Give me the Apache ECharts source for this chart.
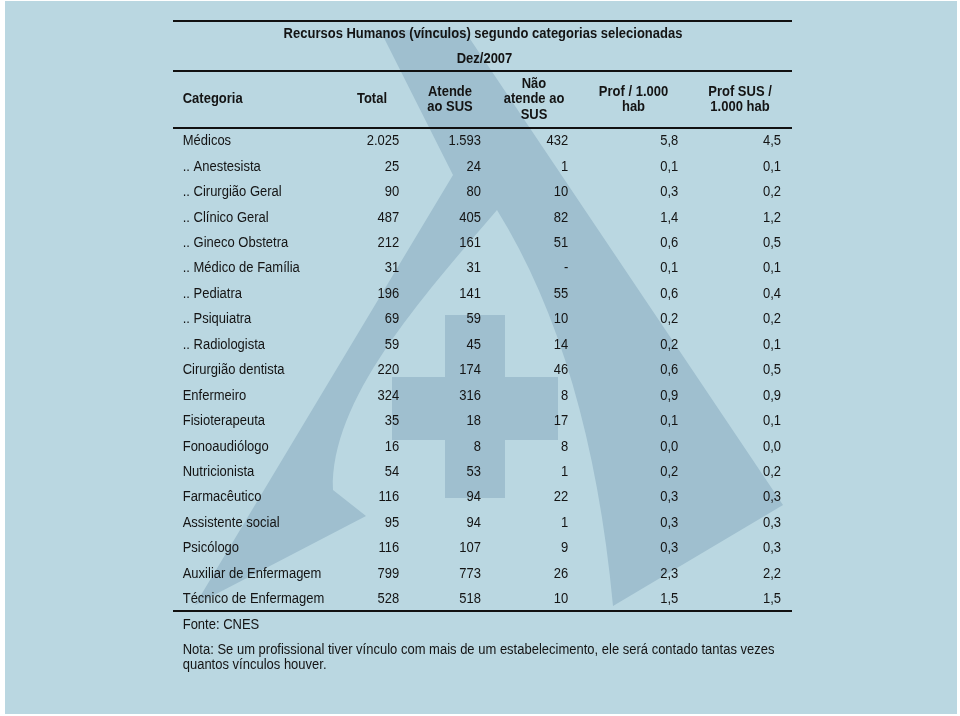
<!DOCTYPE html>
<html>
<head>
<meta charset="utf-8">
<script src="https://cdn.jsdelivr.net/npm/echarts@6/dist/echarts.min.js"></script>
<style>
  html, body { margin: 0; padding: 0; background: #fff; }
  #chart { width: 960px; height: 716px; }
</style>
</head>
<body>
<div id="chart"></div>
<script>
// dados da tabela
var titulo = 'Recursos Humanos (vínculos) segundo categorias selecionadas';
var periodo = 'Dez/2007';
var cabecalhos = ['Categoria', 'Total', 'Atende\nao SUS', 'Não\natende ao\nSUS', 'Prof / 1.000\nhab', 'Prof SUS /\n1.000 hab'];
var categorias = [
  'Médicos', '.. Anestesista', '.. Cirurgião Geral', '.. Clínico Geral', '.. Gineco Obstetra',
  '.. Médico de Família', '.. Pediatra', '.. Psiquiatra', '.. Radiologista', 'Cirurgião dentista',
  'Enfermeiro', 'Fisioterapeuta', 'Fonoaudiólogo', 'Nutricionista', 'Farmacêutico',
  'Assistente social', 'Psicólogo', 'Auxiliar de Enfermagem', 'Técnico de Enfermagem'
];
var total =      [2025, 25, 90, 487, 212, 31, 196, 69, 59, 220, 324, 35, 16, 54, 116, 95, 116, 799, 528];
var atendeSUS =  [1593, 24, 80, 405, 161, 31, 141, 59, 45, 174, 316, 18, 8, 53, 94, 94, 107, 773, 518];
var naoAtende =  [432, 1, 10, 82, 51, null, 55, 10, 14, 46, 8, 17, 8, 1, 22, 1, 9, 26, 10];
var prof1000 =   [5.8, 0.1, 0.3, 1.4, 0.6, 0.1, 0.6, 0.2, 0.2, 0.6, 0.9, 0.1, 0.0, 0.2, 0.3, 0.3, 0.3, 2.3, 1.5];
var profSUS1000 = [4.5, 0.1, 0.2, 1.2, 0.5, 0.1, 0.4, 0.2, 0.1, 0.5, 0.9, 0.1, 0.0, 0.2, 0.3, 0.3, 0.3, 2.2, 1.5];
var fonte = 'Fonte: CNES';
var nota = 'Nota: Se um profissional tiver vínculo com mais de um estabelecimento, ele será contado tantas vezes\nquantos vínculos houver.';

// layout
var colLeft = 182.7;
var colRight = [399.3, 481, 568.3, 678.3, 781];
var headCenter = [372, 450, 534, 633.5, 740];
var SY = 1.12; // texto levemente esticado na vertical
var FONT = '"Liberation Sans", Arial, Helvetica, sans-serif';
var INK = '#141414';
var BG = '#bad7e1';
var LOGO = '#9fbfcf';

function fmtInt(v) {
  if (v == null) return '-';
  return String(v).replace(/\B(?=(\d{3})+(?!\d))/g, '.');
}
function fmtDec(v) {
  return v.toFixed(1).replace('.', ',');
}
function txt(x, y, s, align, bold) {
  return {
    type: 'text', x: x, y: y, scaleY: SY, z: 20,
    style: {
      text: s, align: align, textAlign: align,
      verticalAlign: 'middle', textVerticalAlign: 'middle',
      fill: INK, font: (bold ? 'bold ' : '') + '13px ' + FONT,
      lineHeight: 13.9
    }
  };
}
function hline(y) {
  return { type: 'rect', z: 15, shape: { x: 173, y: y - 1, width: 619, height: 2 }, style: { fill: '#111' } };
}

var myChart = echarts.init(document.getElementById('chart'));

var graphics = [
  // linhas da tabela
  hline(21), hline(71), hline(128), hline(611),
  // títulos
  txt(483, 33.7, titulo, 'center', true),
  txt(484.5, 59, periodo, 'center', true),
  txt(colLeft, 99.3, cabecalhos[0], 'left', true),
  // rodapé
  txt(colLeft, 624.7, fonte, 'left', false),
  txt(colLeft, 657.4, nota, 'left', false)
];
for (var h = 1; h < cabecalhos.length; h++) {
  graphics.push(txt(headCenter[h - 1], 99.4, cabecalhos[h], 'center', true));
}

var option = {
  backgroundColor: '#fff',
  animation: false,
  graphic: { elements: graphics },
  grid: { left: 173, right: 168, top: 128.6, height: 483.2 },
  xAxis: { type: 'value', min: 0, max: 1, show: false },
  yAxis: { type: 'category', inverse: true, data: categorias, show: false },
  series: [
    {
      // fundo azul com o logotipo
      type: 'custom',
      z: 1,
      silent: true,
      data: [[0, 0]],
      renderItem: function () {
        return {
          type: 'group',
          children: [
            { type: 'rect', shape: { x: 5, y: 1, width: 952, height: 713 }, style: { fill: BG } },
            { type: 'path', shape: {
                pathData: 'M380 30 L464 30 L783 505 L613 606 Q590 360 497 210 C420 300 330 400 333 490 L366 516 L195 605 L453 175 Z'
              }, style: { fill: LOGO } },
            { type: 'rect', shape: { x: 445, y: 315, width: 60, height: 183 }, style: { fill: LOGO } },
            { type: 'rect', shape: { x: 392, y: 377, width: 166, height: 63 }, style: { fill: LOGO } }
          ]
        };
      }
    },
    {
      type: 'custom',
      z: 10,
      encode: { x: 0, y: 1 },
      data: categorias.map(function (c, i) { return [0, i]; }),
      renderItem: function (params, api) {
        var i = api.value(1);
        var y = api.coord([0, i])[1];
        var cells = [fmtInt(total[i]), fmtInt(atendeSUS[i]), fmtInt(naoAtende[i]), fmtDec(prof1000[i]), fmtDec(profSUS1000[i])];
        var children = [txt(colLeft, y, categorias[i], 'left', false)];
        cells.forEach(function (s, c) {
          children.push(txt(colRight[c], y, s, 'right', false));
        });
        return { type: 'group', children: children };
      }
    }
  ]
};
myChart.setOption(option);
window.addEventListener('resize', function () { myChart.resize(); });
</script>
</body>
</html>
